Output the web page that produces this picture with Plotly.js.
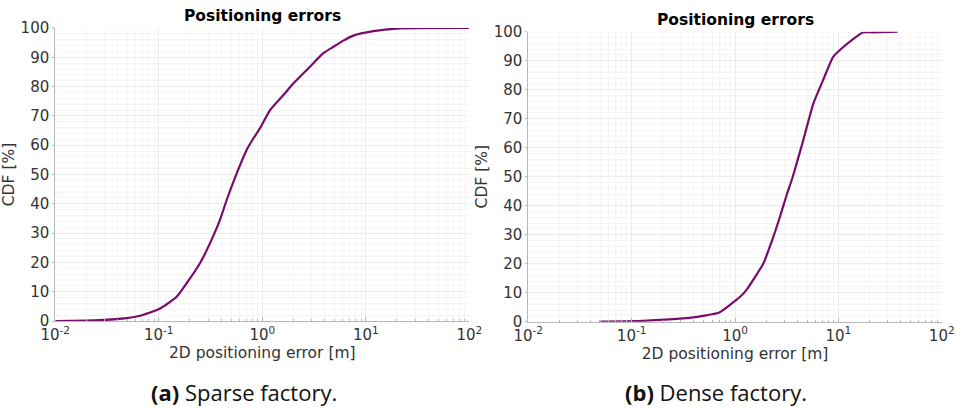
<!DOCTYPE html>
<html>
<head>
<meta charset="utf-8">
<script src="https://cdn.plot.ly/plotly-3.0.1.min.js"></script>
<style>html,body{margin:0;padding:0;background:#fff}#chart{width:956px;height:408px}</style>
</head>
<body>
<div id="chart"></div>
<script>
// Sparse factory CDF (error in m, CDF in %)
const sparseErr = [0.01, 0.027, 0.049, 0.066, 0.103, 0.149, 0.186, 0.25, 0.312, 0.39, 0.453, 0.566, 0.706, 0.819, 0.95, 1.19, 1.6, 2.0, 2.89, 3.89, 4.86, 6.07, 7.58, 11.8, 19.9, 99];
const sparseCdf = [0, 0.3, 1.0, 1.8, 4.3, 8.3, 12.9, 19.7, 26.5, 34.5, 41.3, 50.4, 58.4, 62.3, 65.8, 72.0, 77.1, 81.1, 86.8, 91.4, 93.6, 95.7, 97.4, 98.9, 99.8, 100];
// Dense factory CDF
const denseErr = [0.0487, 0.128, 0.231, 0.361, 0.524, 0.705, 1.12, 1.28, 1.88, 2.35, 2.72, 3.16, 3.62, 4.58, 5.73, 6.9, 8.93, 10.8, 13.5, 17.2, 21.5, 37.5];
const denseCdf = [0, 0.3, 0.8, 1.3, 2.2, 3.2, 8.6, 10.8, 20.1, 29.3, 36.2, 43.7, 50.0, 62.7, 75.3, 82.2, 91.4, 94.3, 97.1, 99.7, 99.8, 100];

const xTickVals = [0.01, 0.1, 1, 10, 100];
const xTickText = ['10<sup>-2</sup>', '10<sup>-1</sup>', '10<sup>0</sup>', '10<sup>1</sup>', '10<sup>2</sup>'];
const yTickVals = [0, 10, 20, 30, 40, 50, 60, 70, 80, 90, 100];

const plotTitle = 'Positioning errors';
const xTitle = '2D positioning error [m]';
const yTitle = 'CDF [%]';
const captionA = '<b>(a)</b> Sparse factory.';
const captionB = '<b>(b)</b> Dense factory.';

const lineColor = '#7a0a6c';
const gridCol = '#ebebeb';
const minorGridCol = '#f5f5f5';
const axisCol = '#b8b8b8';
const tickFont = {family: 'DejaVu Sans', size: 15, color: '#333333'};

function xAx(domain, anchor) {
  return {
    type: 'log', domain: domain, anchor: anchor, range: [-2, 2],
    tickmode: 'array', tickvals: xTickVals, ticktext: xTickText,
    showline: true, linecolor: axisCol, linewidth: 1, mirror: false,
    ticks: 'inside', ticklen: 4, tickcolor: axisCol,
    showgrid: true, gridcolor: gridCol, gridwidth: 1, zeroline: false,
    minor: {dtick: 'D1', showgrid: true, gridcolor: minorGridCol, ticks: 'inside', ticklen: 2, tickcolor: axisCol},
    tickfont: tickFont,
    title: {text: xTitle, font: {family: 'DejaVu Sans', size: 15.5, color: '#333333'}, standoff: 2}
  };
}
function yAx(domain, anchor) {
  return {
    domain: domain, anchor: anchor, range: [0, 100],
    tickmode: 'array', tickvals: yTickVals,
    showline: true, linecolor: axisCol, linewidth: 1,
    ticks: 'outside', ticklen: 2, tickcolor: axisCol,
    showgrid: true, gridcolor: gridCol, zeroline: false,
    minor: {dtick: 2, showgrid: true, gridcolor: minorGridCol, ticks: ''},
    tickfont: tickFont,
    title: {text: yTitle, font: {family: 'DejaVu Sans', size: 15.5, color: '#333333'}, standoff: 2}
  };
}

const data = [
  {x: sparseErr, y: sparseCdf, xaxis: 'x', yaxis: 'y', mode: 'lines', line: {color: lineColor, width: 2.2, shape: 'spline', smoothing: 0.6}, hoverinfo: 'skip'},
  {x: denseErr, y: denseCdf, xaxis: 'x2', yaxis: 'y2', mode: 'lines', line: {color: lineColor, width: 2.2, shape: 'spline', smoothing: 0.5}, hoverinfo: 'skip'}
];

const layout = {
  width: 956, height: 408,
  margin: {l: 0, r: 0, t: 0, b: 0},
  paper_bgcolor: '#ffffff', plot_bgcolor: '#ffffff',
  showlegend: false,
  xaxis: xAx([0.0578, 0.4909], 'y'),
  yaxis: yAx([0.2132, 0.9314], 'x'),
  xaxis2: xAx([0.5526, 0.9851], 'y2'),
  yaxis2: yAx([0.2115, 0.9223], 'x2'),
  annotations: [
    {text: '<b>' + plotTitle + '</b>', xref: 'paper', yref: 'paper', x: 262/956, y: 1 - 16.5/408, xanchor: 'center', yanchor: 'middle', showarrow: false, font: {family: 'DejaVu Sans', size: 15.5, color: '#000'}},
    {text: '<b>' + plotTitle + '</b>', xref: 'paper', yref: 'paper', x: 735/956, y: 1 - 19.5/408, xanchor: 'center', yanchor: 'middle', showarrow: false, font: {family: 'DejaVu Sans', size: 15.5, color: '#000'}},
    {text: captionA, xref: 'paper', yref: 'paper', x: 244/956, y: 1 - 392/408, xanchor: 'center', yanchor: 'middle', showarrow: false, font: {family: 'Open Sans', size: 22, color: '#111'}},
    {text: captionB, xref: 'paper', yref: 'paper', x: 716/956, y: 1 - 392/408, xanchor: 'center', yanchor: 'middle', showarrow: false, font: {family: 'Open Sans', size: 22, color: '#111'}}
  ]
};

Plotly.newPlot('chart', data, layout, {staticPlot: true, displayModeBar: false});
</script>
</body>
</html>
